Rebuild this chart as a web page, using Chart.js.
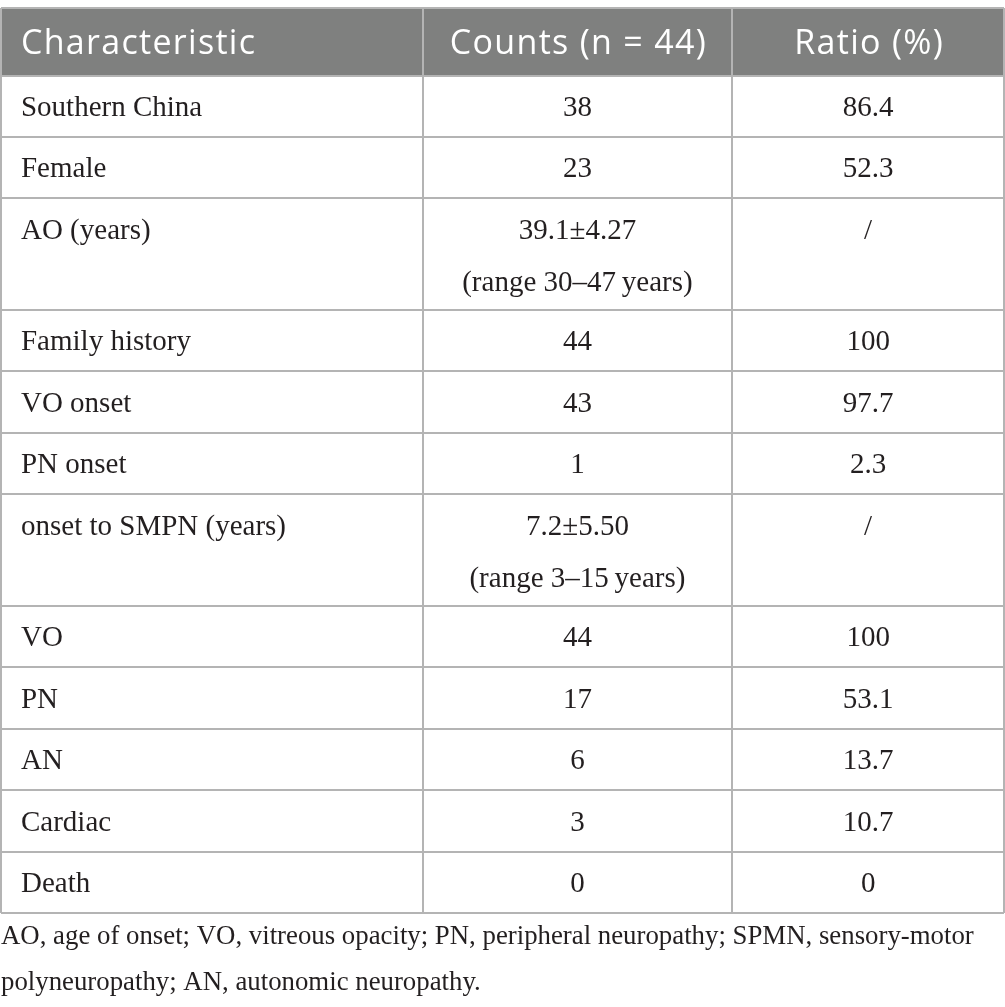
<!DOCTYPE html>
<html>
<head>
<meta charset="utf-8">
<script src="https://cdn.jsdelivr.net/npm/chart.js@4.4.1/dist/chart.umd.min.js"></script>
<style>
  html, body { margin: 0; padding: 0; background: #ffffff; }
  #wrap { position: relative; width: 1005px; height: 1007px; }
  canvas { display: block; }
</style>
</head>
<body>
<div id="wrap"><canvas id="tbl" width="1005" height="1007" style="width:1005px;height:1007px"></canvas></div>
<script>
// ---------- data ----------
const headers = ['Characteristic', 'Counts (n = 44)', 'Ratio (%)'];
const characteristics = [
  'Southern China', 'Female', 'AO (years)', 'Family history', 'VO onset', 'PN onset',
  'onset to SMPN (years)', 'VO', 'PN', 'AN', 'Cardiac', 'Death'
];
const counts = [
  '38', '23', ['39.1±4.27', '(range 30–47\u2009years)'], '44', '43', '1',
  ['7.2±5.50', '(range 3–15\u2009years)'], '44', '17', '6', '3', '0'
];
const ratios = ['86.4', '52.3', '/', '100', '97.7', '2.3', '/', '100', '53.1', '13.7', '10.7', '0'];
const footnote = [
  'AO, age of onset; VO, vitreous opacity; PN, peripheral neuropathy; SPMN, sensory-motor',
  'polyneuropathy; AN, autonomic neuropathy.'
];

// ---------- layout (not data) ----------
const columnShares = [422, 310, 272];
const textInset = 20;
const headerUnits = 1.1;
const extraLineUnits = 0.82;
const lineStepUnits = 0.85;
const bodyFont = '29px "Liberation Serif"';
const headerFont = '400 34px "Open Sans"';

const asLines = v => Array.isArray(v) ? v : [v];
const bodyRows = characteristics.map((c, i) => [asLines(c), asLines(counts[i]), asLines(ratios[i])]);
const rowLineCounts = bodyRows.map(r => Math.max(...r.map(x => x.length)));
const rowUnits = rowLineCounts.map(n => 1 + (n - 1) * extraLineUnits);
const rowTops = [];
let acc = headerUnits;
rowUnits.forEach(u => { rowTops.push(acc); acc += u; });
const totalUnits = acc;
const yBoundaries = [0, headerUnits, ...rowTops.slice(1), totalUnits];
const colEdges = [0];
columnShares.forEach(w => colEdges.push(colEdges[colEdges.length - 1] + w));
const totalWidth = colEdges[colEdges.length - 1];
const colAnchors = columnShares.map((w, i) => i === 0 ? colEdges[0] + textInset : colEdges[i] + w / 2);

const datasets = [0, 1, 2].map(ci => ({
  label: headers[ci],
  data: [{ x: colAnchors[ci], y: headerUnits / 2, lines: [headers[ci]], header: true, rowLines: 1 }]
    .concat(bodyRows.map((r, ri) => ({
      x: colAnchors[ci], y: rowTops[ri] + rowUnits[ri] / 2, lines: r[ci], header: false, rowLines: rowLineCounts[ri]
    }))),
  pointRadius: 0,
  pointHoverRadius: 0,
  showLine: false
}));

const tablePlugin = {
  id: 'tablePlugin',
  beforeDraw(chart) {
    const { ctx, scales: { x, y } } = chart;
    ctx.save();
    ctx.fillStyle = '#7f807f';
    const x0 = x.getPixelForValue(0), x1 = x.getPixelForValue(totalWidth);
    const y0 = y.getPixelForValue(0), y1 = y.getPixelForValue(headerUnits);
    ctx.fillRect(x0, y0, x1 - x0, y1 - y0);
    ctx.restore();
  },
  afterDatasetsDraw(chart) {
    const { ctx, scales: { y } } = chart;
    const step = y.getPixelForValue(lineStepUnits) - y.getPixelForValue(0);
    ctx.save();
    ctx.textBaseline = 'middle';
    chart.data.datasets.forEach((ds, di) => {
      const meta = chart.getDatasetMeta(di);
      meta.data.forEach((pt, pi) => {
        const cell = ds.data[pi];
        let dy;
        if (cell.header) {
          ctx.font = headerFont;
          ctx.fillStyle = '#ffffff';
          ctx.letterSpacing = '1.3px';
          dy = 3;
        } else {
          ctx.font = bodyFont;
          ctx.fillStyle = '#231f20';
          ctx.letterSpacing = '0px';
          dy = cell.rowLines > 1 ? 3.5 : 2;
        }
        ctx.textAlign = di === 0 ? 'left' : 'center';
        cell.lines.forEach((ln, li) => {
          const off = (li - (cell.rowLines - 1) / 2) * step;
          ctx.fillText(ln, pt.x + (cell.header && di > 0 ? 1 : 0), pt.y + off + dy);
        });
      });
    });
    ctx.restore();
  }
};

const setTicks = vals => scale => { scale.ticks = vals.map(v => ({ value: v })); };

new Chart(document.getElementById('tbl'), {
  type: 'scatter',
  data: { datasets },
  options: {
    responsive: false,
    animation: false,
    devicePixelRatio: 1,
    events: [],
    layout: { padding: { top: 8, left: 1, right: 1, bottom: 0 } },
    plugins: {
      legend: { display: false },
      tooltip: { enabled: false },
      title: {
        display: true,
        position: 'bottom',
        align: 'start',
        text: footnote,
        color: '#231f20',
        font: { family: '"Liberation Serif"', size: 26.8, weight: 'normal', lineHeight: 46 / 26.8 },
        padding: { top: 1, bottom: 1 }
      }
    },
    scales: {
      x: {
        type: 'linear', min: 0, max: totalWidth,
        afterBuildTicks: setTicks(colEdges),
        ticks: { display: false },
        border: { display: false },
        grid: { color: '#b4b4b4', lineWidth: 2, drawTicks: false }
      },
      y: {
        type: 'linear', min: 0, max: totalUnits, reverse: true,
        afterBuildTicks: setTicks(yBoundaries),
        ticks: { display: false },
        border: { display: false },
        grid: { color: '#b4b4b4', lineWidth: 2, drawTicks: false }
      }
    }
  },
  plugins: [tablePlugin]
});
</script>
</body>
</html>
